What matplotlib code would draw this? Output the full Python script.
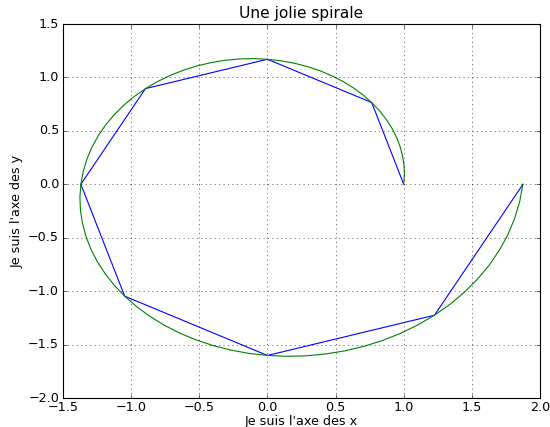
import matplotlib

matplotlib.use("Agg")
import matplotlib.pyplot as plt
import numpy as np

# polygon vertices: every 45 degrees
poly_angle_deg = [0, 45, 90, 135, 180, 225, 270, 315, 360]
poly_radius = [1.000, 1.082, 1.170, 1.266, 1.369, 1.481, 1.602, 1.733, 1.875]

# smooth curve samples: every 5 degrees
curve_angle_deg = [i * 5 for i in range(73)]
curve_radius = [
    1.0000, 1.0088, 1.0176, 1.0265, 1.0355, 1.0446, 1.0538, 1.0630, 1.0723,
    1.0817, 1.0912, 1.1008, 1.1104, 1.1201, 1.1300, 1.1399, 1.1498, 1.1599,
    1.1701, 1.1804, 1.1907, 1.2011, 1.2117, 1.2223, 1.2330, 1.2438, 1.2547,
    1.2657, 1.2768, 1.2880, 1.2993, 1.3107, 1.3222, 1.3337, 1.3454, 1.3572,
    1.3691, 1.3811, 1.3932, 1.4054, 1.4177, 1.4302, 1.4427, 1.4553, 1.4681,
    1.4810, 1.4939, 1.5070, 1.5203, 1.5336, 1.5470, 1.5606, 1.5743, 1.5881,
    1.6019, 1.6160, 1.6302, 1.6444, 1.6589, 1.6734, 1.6881, 1.7029, 1.7178,
    1.7328, 1.7480, 1.7634, 1.7788, 1.7944, 1.8101, 1.8260, 1.8420, 1.8581,
    1.8745,
]

plt.style.use("classic")
plt.rcParams["font.size"] = 11.5
plt.rcParams["xtick.major.pad"] = 2.5
plt.rcParams["ytick.major.pad"] = 3.5

fig = plt.figure(figsize=(550 / 80, 427 / 80), dpi=80, facecolor="white")
ax = fig.add_axes([63 / 550, 1 - 398 / 427, 477 / 550, 374 / 427])

pa = np.radians(poly_angle_deg)
pr = np.asarray(poly_radius)
ca = np.radians(curve_angle_deg)
cr = np.asarray(curve_radius)

ax.plot(pr * np.cos(pa), pr * np.sin(pa), color="b")
ax.plot(cr * np.cos(ca), cr * np.sin(ca), color="g")

ax.set_xlim(-1.5, 2.0)
ax.set_ylim(-2.0, 1.5)
ax.grid(True)
ax.set_title("Une jolie spirale", fontsize=13.8, pad=5)
ax.set_xlabel("Je suis l'axe des x", labelpad=1)
ax.set_ylabel("Je suis l'axe des y", labelpad=4)

fig.savefig("out.png", dpi=80, facecolor="white")
